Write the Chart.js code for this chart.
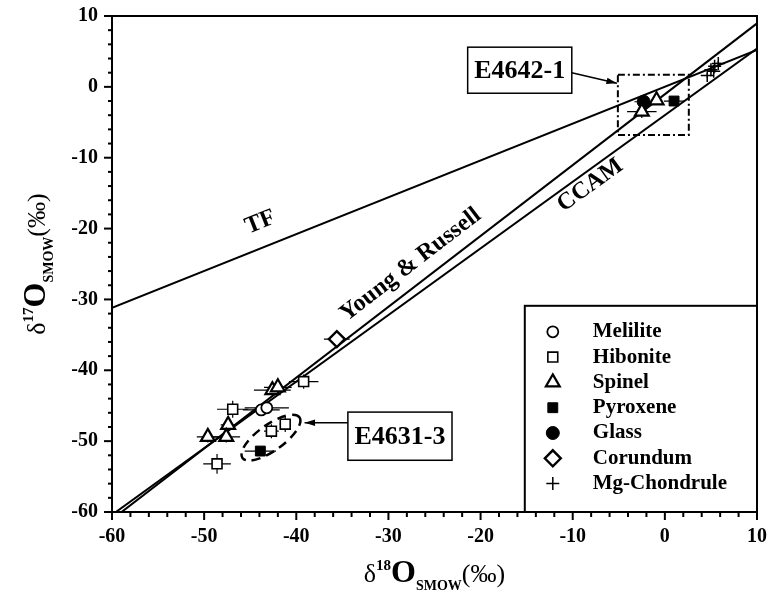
<!DOCTYPE html>
<html>
<head>
<meta charset="utf-8">
<script src="https://cdn.jsdelivr.net/npm/chart.js@4/dist/chart.umd.min.js"></script>
<style>
  html, body { margin: 0; padding: 0; background: #fff; }
  #wrap { width: 771px; height: 592px; }
</style>
</head>
<body>
<div id="wrap"><canvas id="oxy"></canvas></div>
<script>
// ---- data ----
const minerals = ["Melilite", "Hibonite", "Spinel", "Pyroxene", "Glass", "Corundum", "Mg-Chondrule"];

const melX = [-43.8, -43.2];
const melY = [-45.6, -45.3];
const melXErr = [2.0, 2.4];
const melYErr = [0.8, 0.8];

const hibX = [-39.2, -46.9, -42.7, -41.2, -48.6];
const hibY = [-41.6, -45.5, -48.6, -47.6, -53.2];
const hibXErr = [1.6, 1.7, 0.8, 0.6, 1.5];
const hibYErr = [1.0, 1.2, 1.0, 1.1, 1.4];

const spiX = [-42.6, -42.0, -47.4, -47.6, -49.6, -0.9, -2.5];
const spiY = [-42.8, -42.4, -47.7, -49.4, -49.4, -1.9, -3.5];
const spiXErr = [2.0, 1.5, 0.8, 1.5, 1.2, 0.6, 1.6];
const spiYErr = [0.8, 0.8, 1.0, 0.8, 0.8, 0.6, 0.9];

const pyxX = [-43.9, 1.0];
const pyxY = [-51.4, -2.0];
const pyxXErr = [1.7, 1.1];
const pyxYErr = [0.6, 0.6];

const glsX = [-2.3];
const glsY = [-2.1];
const glsXErr = [1.0];
const glsYErr = [0.5];

const corX = [-35.6];
const corY = [-35.6];
const corXErr = [1.4];
const corYErr = [0.8];

const mgcX = [4.6, 5.0, 5.4, 5.8, 5.3];
const mgcY = [1.6, 2.4, 2.9, 3.3, 2.2];
const mgcXErr = [0.3, 0.3, 0.3, 0.3, 0.3];
const mgcYErr = [0.4, 0.4, 0.4, 0.4, 0.4];

// reference lines, end points at the axis limits
const tfX = [-60, 10];
const tfY = [-31.2, 5.2];
const yrX = [-60, 10];
const yrY = [-61.04, 8.96];
const ccamX = [-60, 10];
const ccamY = [-60.4, 5.4];

const xTicks = [-60, -50, -40, -30, -20, -10, 0, 10];
const yTicks = [-60, -50, -40, -30, -20, -10, 0, 10];

const SERIF = "'Liberation Serif', 'Times New Roman', serif";

function pts(xs, ys) {
    return xs.map((x, i) => ({ x: x, y: ys[i] }));
}

function pointSet(label, xs, ys, xe, ye, style, radius, fill, bw) {
    return {
        label: label,
        data: pts(xs, ys),
        xErr: xe,
        yErr: ye,
        pointStyle: style,
        pointRadius: radius,
        pointHoverRadius: radius,
        backgroundColor: fill,
        borderColor: "#000",
        borderWidth: bw,
        order: 0,
    };
}

function lineSet(label, xs, ys) {
    return {
        type: "line",
        label: label,
        data: pts(xs, ys),
        showLine: true,
        borderColor: "#000",
        borderWidth: 2,
        pointRadius: 0,
        fill: false,
        order: 5,
    };
}

const datasets = [
    pointSet(minerals[0], melX, melY, melXErr, melYErr, "circle", 5.5, "#fff", 1.8),
    pointSet(minerals[1], hibX, hibY, hibXErr, hibYErr, "rect", 7, "#fff", 1.6),
    pointSet(minerals[2], spiX, spiY, spiXErr, spiYErr, "triangle", 8, "#fff", 2.2),
    pointSet(minerals[3], pyxX, pyxY, pyxXErr, pyxYErr, "rect", 7, "#000", 1),
    pointSet(minerals[4], glsX, glsY, glsXErr, glsYErr, "circle", 6.5, "#000", 1),
    pointSet(minerals[5], corX, corY, corXErr, corYErr, "rectRot", 8, "#fff", 2.4),
    pointSet(minerals[6], mgcX, mgcY, mgcXErr, mgcYErr, "cross", 6.5, "#000", 1.5),
    lineSet("TF", tfX, tfY),
    lineSet("Young & Russell", yrX, yrY),
    lineSet("CCAM", ccamX, ccamY),
];

// ---- drawing helpers ----
function drawMarker(ctx, ds, x, y) {
    const opts = {
        pointStyle: ds.pointStyle,
        radius: ds.pointRadius,
        rotation: 0,
        borderWidth: ds.borderWidth,
    };
    ctx.save();
    ctx.fillStyle = ds.backgroundColor;
    ctx.strokeStyle = ds.borderColor;
    ctx.lineWidth = ds.borderWidth;
    Chart.helpers.drawPoint(ctx, opts, x, y);
    ctx.restore();
}

function arrow(ctx, x1, y1, x2, y2) {
    const a = Math.atan2(y2 - y1, x2 - x1);
    ctx.beginPath();
    ctx.moveTo(x1, y1);
    ctx.lineTo(x2, y2);
    ctx.stroke();
    ctx.beginPath();
    ctx.moveTo(x2, y2);
    ctx.lineTo(x2 - 11 * Math.cos(a - 0.3), y2 - 11 * Math.sin(a - 0.3));
    ctx.lineTo(x2 - 11 * Math.cos(a + 0.3), y2 - 11 * Math.sin(a + 0.3));
    ctx.closePath();
    ctx.fill();
}

function lineLabel(ctx, xs, ys, text, cx, cy, sx, sy) {
    const dx = sx.getPixelForValue(xs[1]) - sx.getPixelForValue(xs[0]);
    const dy = sy.getPixelForValue(ys[1]) - sy.getPixelForValue(ys[0]);
    ctx.save();
    ctx.translate(sx.getPixelForValue(cx), sy.getPixelForValue(cy));
    ctx.rotate(Math.atan2(dy, dx));
    ctx.font = "bold 24px " + SERIF;
    ctx.textAlign = "center";
    ctx.textBaseline = "middle";
    ctx.fillText(text, 0, 0);
    ctx.restore();
}

// axis title with super/subscript: delta, mass number, O, SMOW, (‰)
function isoTitle(ctx, mass) {
    const parts = [
        { t: "\u03b4", f: "26px " + SERIF, dy: 0 },
        { t: mass, f: "bold 15px " + SERIF, dy: -12 },
        { t: "O", f: "bold 32px " + SERIF, dy: 0 },
        { t: "SMOW", f: "bold 14px " + SERIF, dy: 8 },
        { t: "(\u2030)", f: "26px " + SERIF, dy: 0 },
    ];
    let w = 0;
    parts.forEach(p => { ctx.font = p.f; w += ctx.measureText(p.t).width; });
    let x = -w / 2;
    ctx.textBaseline = "alphabetic";
    ctx.textAlign = "left";
    parts.forEach(p => {
        ctx.font = p.f;
        ctx.fillText(p.t, x, p.dy);
        x += ctx.measureText(p.t).width;
    });
}

const decorations = {
    id: "decorations",
    beforeDatasetsDraw(chart) {
        const ctx = chart.ctx;
        const sx = chart.scales.x, sy = chart.scales.y;
        ctx.save();
        ctx.strokeStyle = "#000";
        ctx.lineWidth = 1.2;
        chart.data.datasets.forEach(ds => {
            if (!ds.xErr) return;
            ds.data.forEach((p, i) => {
                const px = sx.getPixelForValue(p.x), py = sy.getPixelForValue(p.y);
                ctx.beginPath();
                ctx.moveTo(sx.getPixelForValue(p.x - ds.xErr[i]), py);
                ctx.lineTo(sx.getPixelForValue(p.x + ds.xErr[i]), py);
                ctx.moveTo(px, sy.getPixelForValue(p.y - ds.yErr[i]));
                ctx.lineTo(px, sy.getPixelForValue(p.y + ds.yErr[i]));
                ctx.stroke();
            });
        });
        ctx.restore();
    },
    afterDatasetsDraw(chart) {
        const ctx = chart.ctx;
        const a = chart.chartArea;
        const sx = chart.scales.x, sy = chart.scales.y;
        ctx.save();
        ctx.strokeStyle = "#000";
        ctx.fillStyle = "#000";

        // frame
        ctx.lineWidth = 2;
        ctx.strokeRect(a.left, a.top, a.right - a.left, a.bottom - a.top);

        // ticks, major every 10, minor every 2
        for (let v = sx.min; v <= sx.max; v += 2) {
            const px = sx.getPixelForValue(v);
            const len = v % 10 === 0 ? 8 : 5;
            ctx.beginPath();
            ctx.moveTo(px, a.bottom);
            ctx.lineTo(px, a.bottom + len);
            ctx.stroke();
        }
        for (let v = sy.min; v <= sy.max; v += 2) {
            const py = sy.getPixelForValue(v);
            const len = v % 10 === 0 ? 8 : 4;
            ctx.beginPath();
            ctx.moveTo(a.left, py);
            ctx.lineTo(a.left - len, py);
            ctx.stroke();
        }

        // line labels
        lineLabel(ctx, tfX, tfY, "TF", -43.9, -19.1, sx, sy);
        lineLabel(ctx, yrX, yrY, "Young & Russell", -27.6, -25.1, sx, sy);
        lineLabel(ctx, ccamX, ccamY, "CCAM", -8.1, -13.9, sx, sy);

        // dashed box round E4642-1 data
        ctx.lineWidth = 2;
        ctx.setLineDash([7, 3, 2, 3]);
        const bx1 = sx.getPixelForValue(-5.1), bx2 = sx.getPixelForValue(2.6);
        const by1 = sy.getPixelForValue(1.7), by2 = sy.getPixelForValue(-6.8);
        ctx.strokeRect(bx1, by1, bx2 - bx1, by2 - by1);

        // dashed ellipse round E4631-3 data
        ctx.setLineDash([9, 6]);
        ctx.lineWidth = 2.5;
        ctx.beginPath();
        ctx.ellipse(sx.getPixelForValue(-42.75), sy.getPixelForValue(-49.5), 35, 13, -0.62, 0, Math.PI * 2);
        ctx.stroke();
        ctx.setLineDash([]);

        // label boxes with arrows
        ctx.lineWidth = 1.5;
        ctx.font = "bold 26px " + SERIF;
        ctx.textAlign = "center";
        ctx.textBaseline = "middle";
        const boxes = [
            { t: "E4642-1", x1: -21.4, x2: -10.1, y1: 5.6, y2: -0.9, ax1: -10.1, ay1: 2.0, ax2: -5.2, ay2: 0.5 },
            { t: "E4631-3", x1: -34.4, x2: -23.1, y1: -45.9, y2: -52.7, ax1: -34.4, ay1: -47.4, ax2: -39.1, ay2: -47.4 },
        ];
        boxes.forEach(b => {
            const l = sx.getPixelForValue(b.x1), r = sx.getPixelForValue(b.x2);
            const t = sy.getPixelForValue(b.y1), btm = sy.getPixelForValue(b.y2);
            ctx.fillStyle = "#fff";
            ctx.fillRect(l, t, r - l, btm - t);
            ctx.strokeRect(l, t, r - l, btm - t);
            ctx.fillStyle = "#000";
            ctx.fillText(b.t, (l + r) / 2, (t + btm) / 2 + 1);
            arrow(ctx, sx.getPixelForValue(b.ax1), sy.getPixelForValue(b.ay1),
                sx.getPixelForValue(b.ax2), sy.getPixelForValue(b.ay2));
        });

        // legend box in the lower right corner
        const ll = sx.getPixelForValue(-15.2), lt = sy.getPixelForValue(-30.9);
        ctx.fillStyle = "#fff";
        ctx.fillRect(ll, lt, a.right - ll, a.bottom - lt);
        ctx.lineWidth = 2;
        ctx.strokeRect(ll, lt, a.right - ll, a.bottom - lt);
        ctx.font = "bold 21px " + SERIF;
        ctx.textAlign = "left";
        ctx.textBaseline = "middle";
        minerals.forEach((m, i) => {
            const ds = chart.data.datasets[i];
            const y = lt + 26 + i * 25.3;
            drawMarker(ctx, ds, ll + 28, y);
            ctx.fillStyle = "#000";
            ctx.fillText(m, ll + 68, y);
        });
        ctx.restore();
    },
    afterDraw(chart) {
        const ctx = chart.ctx;
        const a = chart.chartArea;
        ctx.save();
        ctx.fillStyle = "#000";
        ctx.translate((a.left + a.right) / 2, 582);
        isoTitle(ctx, "18");
        ctx.restore();
        ctx.save();
        ctx.fillStyle = "#000";
        ctx.translate(45, (a.top + a.bottom) / 2);
        ctx.rotate(-Math.PI / 2);
        isoTitle(ctx, "17");
        ctx.restore();
    },
};

const ctx = document.getElementById("oxy");

new Chart(ctx, {
    type: "scatter",
    data: { datasets: datasets },
    options: {
        responsive: true,
        maintainAspectRatio: false,
        animation: false,
        layout: { padding: { left: 0, top: 16, right: 14, bottom: 0 } },
        plugins: {
            legend: { display: false },
            tooltip: { enabled: false },
        },
        scales: {
            x: {
                type: "linear",
                min: -60,
                max: 10,
                afterBuildTicks: s => { s.ticks = xTicks.map(v => ({ value: v })); },
                afterFit: s => {
                    s.height = 80;
                    s.paddingLeft = 0;
                    s.paddingRight = 0;
                },
                grid: { display: false, drawTicks: false },
                border: { display: false },
                ticks: {
                    padding: 13,
                    color: "#000",
                    font: { family: SERIF, size: 20, weight: "bold" },
                },
            },
            y: {
                type: "linear",
                min: -60,
                max: 10,
                afterBuildTicks: s => { s.ticks = yTicks.map(v => ({ value: v })); },
                afterFit: s => {
                    s.width = 112;
                    s.paddingTop = 0;
                    s.paddingBottom = 0;
                },
                grid: { display: false, drawTicks: false },
                border: { display: false },
                ticks: {
                    padding: 14,
                    color: "#000",
                    font: { family: SERIF, size: 20, weight: "bold" },
                },
            },
        },
    },
    plugins: [decorations],
});
</script>
</body>
</html>
